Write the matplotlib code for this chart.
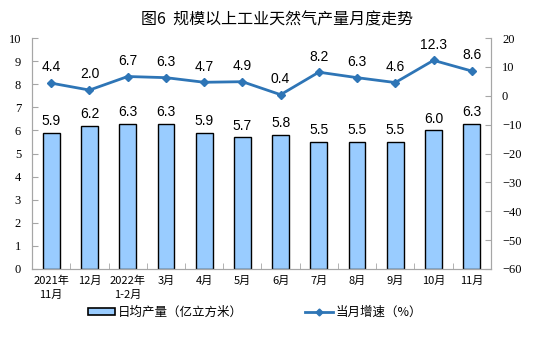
import matplotlib.pyplot as plt
from matplotlib.patches import Patch
from matplotlib.lines import Line2D

plt.rcParams['font.family'] = ['Noto Sans CJK SC', 'DejaVu Sans']

months = ['2021年\n11月', '12月', '2022年\n1-2月', '3月', '4月', '5月',
          '6月', '7月', '8月', '9月', '10月', '11月']
daily_output = [5.9, 6.2, 6.3, 6.3, 5.9, 5.7, 5.8, 5.5, 5.5, 5.5, 6.0, 6.3]
growth = [4.4, 2.0, 6.7, 6.3, 4.7, 4.9, 0.4, 8.2, 6.3, 4.6, 12.3, 8.6]

bar_color = '#99CCFF'
line_color = '#2E75B6'
axis_color = '#A6A6A6'

fig = plt.figure(figsize=(5.54, 3.53), dpi=100)
ax = fig.add_axes([0.058, 0.238, 0.828, 0.654])
ax2 = ax.twinx()

x = list(range(len(months)))
ax.bar(x, daily_output, width=0.44, color=bar_color, edgecolor='black', linewidth=1.0, zorder=2)
for xi, v in zip(x, daily_output):
    ax.text(xi, v + 0.2, f'{v:.1f}', ha='center', va='bottom', fontsize=10,
            family='Liberation Sans', color='black')

ax2.plot(x, growth, color=line_color, linewidth=2, marker='D', markersize=4.5, zorder=3)
for xi, v in zip(x, growth):
    ax2.text(xi, v + 3.0, f'{v:.1f}', ha='center', va='bottom', fontsize=10,
             family='Liberation Sans', color='black')

ax.set_xlim(-0.5, len(months) - 0.5)
ax.set_ylim(0, 10)
ax.set_yticks(range(0, 11))
ax2.set_ylim(-60, 20)
ax2.set_yticks(range(-60, 21, 10))

for a in (ax, ax2):
    a.spines['top'].set_visible(False)
    for s in ('left', 'right', 'bottom'):
        a.spines[s].set_color(axis_color)
    a.tick_params(axis='y', direction='in', length=4, color=axis_color, labelsize=9, pad=8)
for lab in ax.get_yticklabels() + ax2.get_yticklabels():
    lab.set_family('Liberation Serif')

ax.set_xticks(x)
ax.set_xticklabels(months, fontsize=8, linespacing=1.5)
ax.tick_params(axis='x', length=0, pad=5)
ax.set_xticks([i + 0.5 for i in x[:-1]], minor=True)
ax.tick_params(axis='x', which='minor', direction='in', length=4, color=axis_color)

fig.text(0.5, 0.945, '图6  规模以上工业天然气产量月度走势', ha='center', va='center',
         fontsize=11.5, fontweight='medium')

handles = [Patch(facecolor=bar_color, edgecolor='black', linewidth=1.2),
           Line2D([0], [0], color=line_color, linewidth=2, marker='D', markersize=3.5)]
labels = ['日均产量（亿立方米）', '当月增速（%）']
fig.legend(handles, labels, loc='center', bbox_to_anchor=(0.46, 0.115), ncol=2,
           frameon=False, fontsize=9, columnspacing=5, handlelength=2.2,
           handleheight=0.5, handletextpad=0.2)

fig.savefig('out.png', dpi=100)
